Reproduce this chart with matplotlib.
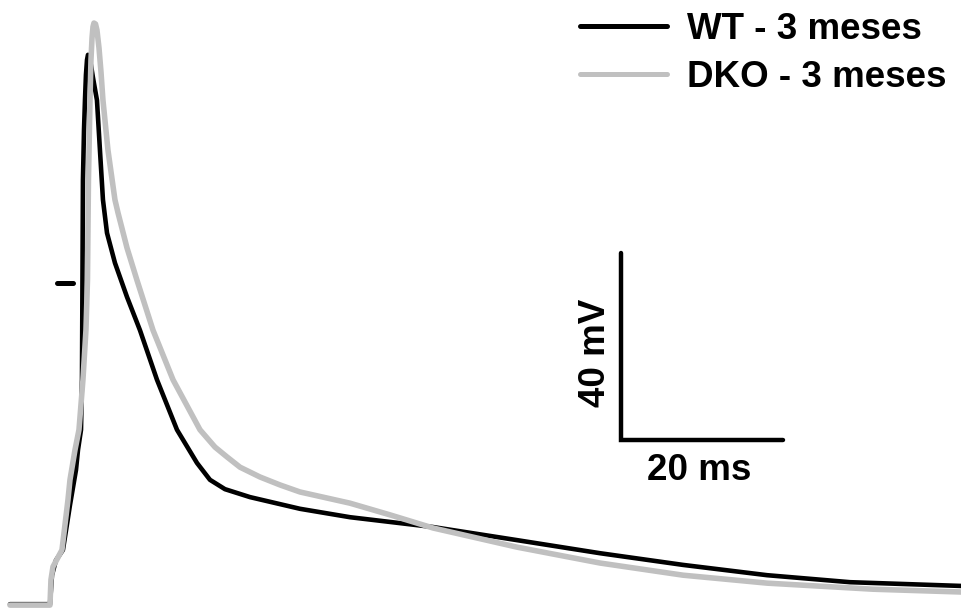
import matplotlib.pyplot as plt
import numpy as np

# WT - 3 meses (time in ms, membrane potential in mV)
wt_t = [-4.94, 0.0, 0.25, 0.74, 1.60, 2.47, 3.21, 3.46, 3.83, 3.95, 4.01, 4.07, 4.20, 4.32,
        4.44, 4.57, 4.69, 4.88, 5.06, 5.31, 5.80, 6.17, 6.54, 7.04, 8.02, 9.51, 11.11,
        13.21, 15.68, 18.15, 19.75, 21.60, 24.69, 30.86, 37.04, 47.28, 57.65, 67.90,
        78.15, 88.52, 98.77, 112.47]
wt_v = [-68.7, -68.7, -62.5, -59.3, -57.1, -47.5, -40.0, -35.7, -31.4, -20.7, 0.6, 22.0, 32.7, 39.1,
        44.5, 47.7, 48.8, 48.3, 46.6, 43.9, 39.1, 28.4, 17.8, 10.7, 4.3, -3.0, -10.1,
        -20.7, -31.4, -38.5, -42.1, -44.1, -45.8, -48.3, -50.1, -52.2, -55.0, -57.8,
        -60.3, -62.5, -64.0, -64.8]

# DKO - 3 meses
dko_t = [-4.94, 0.0, 0.12, 0.37, 1.48, 2.22, 2.47, 3.09, 3.58, 4.07, 4.44, 4.63, 4.75, 4.94,
         5.06, 5.19, 5.31, 5.43, 5.62, 5.80, 6.05, 6.30, 6.54, 7.16, 8.02, 8.40, 9.51,
         10.74, 12.72, 15.19, 18.52, 20.37, 21.85, 23.46, 25.93, 28.40, 30.86, 37.04,
         41.98, 47.28, 57.65, 67.90, 78.15, 88.52, 101.6, 112.47]
dko_v = [-68.9, -68.9, -63.5, -60.7, -57.1, -46.4, -42.1, -35.7, -31.4, -20.7, -10.1, 0.6, 22.0, 39.1,
         47.7, 52.4, 54.8, 55.6, 55.4, 54.1, 50.3, 45.1, 39.1, 28.4, 17.8, 15.0, 7.5,
         0.6, -10.1, -20.7, -31.4, -35.1, -37.2, -39.4, -41.5, -43.2, -44.7, -47.1,
         -49.6, -52.4, -56.5, -59.9, -62.5, -64.2, -65.5, -66.1]

labels = ["WT - 3 meses", "DKO - 3 meses"]
colors = ["black", "#c0c0c0"]

# scale bar: 20 ms x 40 mV
sb_t0, sb_v0 = 70.5, -33.6
sb_ms, sb_mv = 20, 40

fig = plt.figure(figsize=(9.61, 6.08), dpi=100)
ax = fig.add_axes([0, 0, 1, 1])

ax.plot(wt_t, wt_v, color=colors[0], lw=3.3, label=labels[0], zorder=2,
        solid_joinstyle='round', solid_capstyle='round')
ax.plot(dko_t, dko_v, color=colors[1], lw=4.0, label=labels[1], zorder=3,
        solid_joinstyle='round', solid_capstyle='round')

# 0 mV mark
ax.plot([0.86, 2.84], [0, 0], color='black', lw=3.6, solid_capstyle='round')

# scale bar
ax.plot([sb_t0, sb_t0, sb_t0 + sb_ms], [sb_v0 + sb_mv, sb_v0, sb_v0],
        color='black', lw=3.2, solid_capstyle='round', solid_joinstyle='miter')
ax.text(sb_t0 + sb_ms / 2 - 0.3, sb_v0 - 8.6, "20 ms", fontsize=26.5, fontweight='bold',
        family='Liberation Sans', ha='center', va='baseline')
ax.text(sb_t0 - 1.0, sb_v0 + sb_mv / 2 - 1.4, "40 mV", fontsize=26.5, fontweight='bold',
        family='Liberation Sans', ha='right', va='center', rotation=90)

ax.set_xlim(-6.17, 112.47)
ax.set_ylim(-69.52, 60.53)
ax.axis('off')

leg = ax.legend(loc='upper right', bbox_to_anchor=(1.0, 1.005), frameon=False,
                prop={'family': 'Liberation Sans', 'weight': 'bold', 'size': 26.5},
                handlelength=2.36, handletextpad=0.55, labelspacing=0.37, borderaxespad=0.0)
for line in leg.get_lines():
    line.set_linewidth(3.6)
    line.set_solid_capstyle('round')

plt.savefig("out.png", dpi=100)
